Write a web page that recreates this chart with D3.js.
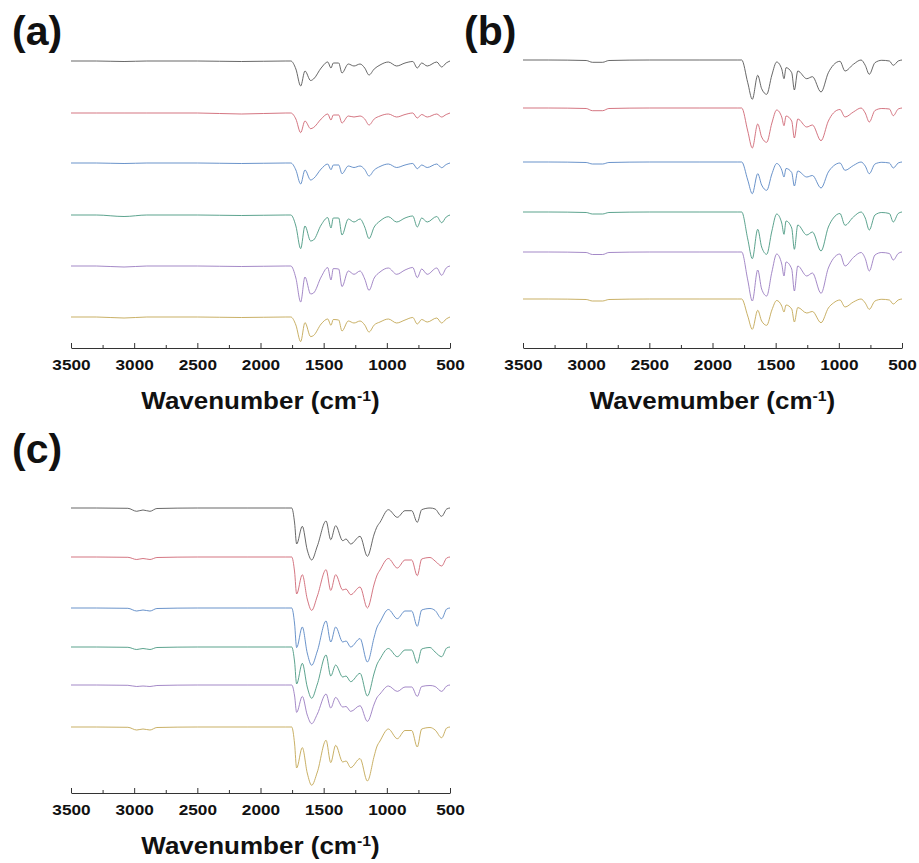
<!DOCTYPE html>
<html>
<head>
<meta charset="utf-8">
<script src="https://cdn.jsdelivr.net/npm/d3@7/dist/d3.min.js"></script>
<style>
  body { margin: 0; background: #fff; }
  text { font-family: "Liberation Sans", Arial, sans-serif; font-weight: bold; fill: #111; }
</style>
</head>
<body>
<svg id="chart" width="919" height="863"></svg>
<script>
// FTIR spectra, three panels, six stacked traces each.
// values = depth of the band below each trace's own baseline (a.u.)

var colors = ['#4d4d4d', '#cc5d6c', '#4f7fc0', '#3f927a', '#9474bd', '#bfa24a'];
var majorTicks = [3500, 3000, 2500, 2000, 1500, 1000, 500];
var minorTicks = [3250, 2750, 2250, 1750, 1250, 750];

// ---- panel (a)
var wnA = [3500, 3300, 3080, 2900, 2500, 2150, 1800, 1760, 1720, 1682, 1648, 1603, 1580, 1520, 1468, 1442, 1424, 1381, 1355, 1305, 1260, 1212, 1175, 1141, 1100, 1054, 988, 922, 856, 795, 759, 724, 680, 605, 566, 530, 500];
var offsetA = [287, 235, 185, 133, 82, 31];
var specA = [
  [0, 0, 0.5, 0, 0, 0.5, 0, 0, 8, 25, 10, 19.5, 18, 7, 1, 7, 2, 2, 12, 3, 5, 3, 7, 14, 8, 4, 1, 5, 2, 0.5, 7, 2, 5, 1, 6, 2, 0],
  [0, 0, 0, 0, 0, 1, 0, 0, 6, 19.6, 8, 15.7, 14.5, 6, 1, 7, 2, 2, 10, 3, 4, 3, 6, 12, 6, 3, 1, 4, 1.5, 0, 5, 1.5, 4, 1, 4, 1.5, 0],
  [0, 0, 0.5, 0, 0, 0.5, 0, 0, 7, 21, 7, 17, 15.5, 6, 1, 6.7, 2, 2, 10.7, 3, 4.5, 3, 6.5, 13, 7, 3.5, 1, 4.5, 2, 0.5, 5.7, 2, 4.5, 1, 4.7, 1.5, 0],
  [0, 0, 1.5, 0, 0, 0.5, 0, 0, 11, 33.6, 11, 26, 25, 10, 2.6, 13, 3, 3, 20, 4, 7, 4, 12, 23.6, 12, 6, 1.7, 7, 3, 1, 12, 3, 7, 1.5, 7.7, 2, 0],
  [0, 0, 1, 0, 0, 0.5, 0, 0, 12, 36, 11, 28, 27, 11, 1.6, 14, 2.6, 3, 20.6, 5, 8.3, 5, 13, 24.3, 12, 6, 2, 8.3, 4, 1.5, 11.6, 3, 8.3, 2, 9.3, 2, 0],
  [0, 0, 1, 0, 0, 0.5, 0, 0, 8, 24.6, 5.6, 19.6, 18.5, 7, 2, 8.3, 2.5, 3, 14, 4, 6, 4, 8, 15, 8, 5, 2, 6, 3, 0.5, 7, 2.5, 5, 1, 6, 2, 0]
];

// ---- panel (b)
var wnB = [3500, 3300, 3000, 2950, 2870, 2820, 2500, 2100, 1800, 1769, 1721, 1685, 1642, 1611, 1571, 1530, 1492, 1452, 1434, 1418, 1373, 1352, 1325, 1254, 1209, 1141, 1083, 1043, 991, 951, 885, 824, 791, 759, 714, 660, 600, 569, 530, 500];
var offsetB = [288, 240, 186, 136, 96, 49];
var specB = [
  [0, 0, 0.5, 2.3, 2.3, 0.5, 0, 0, 0, 0, 22.7, 39.3, 15.3, 28.7, 34.3, 15, 2, 9, 18.7, 7.7, 12.7, 30, 11, 18.7, 16.7, 32, 12.7, 5, 1.3, 11, 4.3, 0, 5.3, 14.3, 2.7, 0.3, 1, 5.3, 1, 0],
  [0, 0, 0.5, 2.7, 2.7, 0.5, 0, 0, 0, 0, 23, 40, 16, 29, 34.3, 15, 2, 9, 17.7, 8, 13, 30, 11, 19, 17, 32.7, 13, 5, 1.5, 9, 4, 0, 5, 14, 2.5, 0.5, 1, 7.7, 1, 0],
  [0, 0, 0.5, 2, 2, 0.5, 0, 0, 0, 0, 18, 31.7, 11.7, 23, 28.3, 12, 1.5, 8, 15, 6.5, 10.5, 24, 9, 15, 13.5, 26, 10, 4, 1, 8.3, 3.5, 0, 4, 11.7, 2, 0.3, 1, 6, 1, 0],
  [0, 0, 0.5, 2, 2, 0.5, 0, 0, 0, 0, 27, 46.7, 17.3, 35, 42.3, 19, 2, 11, 22.3, 9, 16, 37.3, 13, 23, 20, 39, 15, 6, 1.5, 13.3, 5, 0, 6, 18, 3, 0.5, 1.5, 10, 1.5, 0],
  [0, 0, 0.5, 2.5, 2.5, 0.5, 0, 0, 0, 0, 28, 49, 18, 37, 44, 20, 2, 12, 24, 10, 17, 39, 14, 24, 21, 41.3, 16, 6.5, 2, 14, 5.5, 0.5, 6.5, 19, 3, 0.5, 1.5, 8, 1.5, 0],
  [0, 0, 0.5, 2, 2, 0.5, 0, 0, 0, 0, 17, 30.3, 11.3, 22, 26.3, 11, 1.5, 7, 13, 6, 10, 23, 8.5, 14, 12.5, 23.7, 9, 4, 1, 8, 3, 0, 4, 10.3, 2, 0.3, 1, 5, 1, 0]
];

// ---- panel (c)
var wnC = [3500, 3300, 3050, 2980, 2930, 2875, 2820, 2500, 2100, 1800, 1753, 1730, 1714, 1669, 1630, 1595, 1550, 1481, 1444, 1405, 1349, 1323, 1286, 1212, 1154, 1100, 1080, 1054, 988, 917, 856, 803, 759, 724, 658, 618, 566, 526, 500];
var offsetC = [285, 236, 185, 146, 108, 66];
var specC = [
  [0, 0, 0.3, 3.3, 2, 3.3, 0.5, 0, 0, 0, 0, 15, 36, 18.3, 42, 52, 38, 13, 31.7, 17.7, 32.7, 31, 36, 28.3, 48.3, 26, 19.3, 14.3, 1.7, 9.3, 2.7, 2.7, 14.3, 1.7, 0, 1, 8.3, 1, 0],
  [0, 0, 0.3, 2.5, 1.5, 2.5, 0.5, 0, 0, 0, 0, 15, 37, 17.7, 42, 53.4, 39, 12.7, 33.4, 17.7, 33, 32, 37.7, 30, 51, 27, 19, 13, 1.5, 11, 3, 3, 18.7, 2, 0.5, 4, 9, 1, 0],
  [0, 0, 0.3, 3, 2, 3, 0.5, 0, 0, 0, 0, 16, 39.6, 19, 45, 57.3, 43, 13, 34, 19, 34, 33, 39, 30.6, 54, 29, 20, 14, 1.5, 10.7, 3, 3, 18.3, 2, 0.5, 2.5, 10.7, 1, 0],
  [0, 0, 0.3, 2.5, 1.5, 2.5, 0.5, 0, 0, 0, 0, 15, 37, 16.3, 40, 51.3, 37, 8, 29, 18, 30, 29, 34.7, 26.3, 49, 26, 18, 12, 1.5, 9.7, 3, 3, 16.3, 2, 0.5, 5, 9.7, 1, 0],
  [0, 0, 0.3, 1.5, 1, 1.5, 0.5, 0, 0, 0, 0, 11, 27.4, 11.4, 30, 38.7, 29, 9, 23, 12.4, 22, 21.5, 26.4, 20.7, 36.4, 19, 13, 9, 1, 6.4, 2, 2, 11.4, 1.5, 0.5, 1.5, 6.4, 1, 0],
  [0, 0, 0.3, 3, 2, 3, 0.5, 0, 0, 0, 0, 17, 41, 20.6, 46, 58.3, 45, 13.3, 35.6, 18.3, 35, 34, 40.6, 31.6, 54, 29, 20, 14, 2, 11.7, 3.5, 3.5, 20, 2, 0.5, 3, 10.7, 1, 0]
];

var svg = d3.select('#chart');

var panels = [
  {label: '(a)', title: 'Wavenumber', wn: wnA, off: offsetA, spec: specA, left: 71, axisY: 348, labelX: 12, labelY: 45},
  {label: '(b)', title: 'Wavemumber', wn: wnB, off: offsetB, spec: specB, left: 523, axisY: 348, labelX: 464, labelY: 45},
  {label: '(c)', title: 'Wavenumber', wn: wnC, off: offsetC, spec: specC, left: 71, axisY: 793, labelX: 12, labelY: 463}
];

var plotW = 379;

panels.forEach(function(p) {
  var x = d3.scaleLinear().domain([3500, 500]).range([0, plotW]);
  var y = d3.scaleLinear().domain([0, 300]).range([p.axisY, p.axisY - 300]);

  var g = svg.append('g').attr('transform', 'translate(' + p.left + ',0)');

  var line = d3.line()
      .x(function(d) { return x(d[0]); })
      .y(function(d) { return y(d[1]); })
      .curve(d3.curveMonotoneX);

  p.spec.forEach(function(vals, i) {
    var pts = p.wn.map(function(w, j) { return [w, p.off[i] - vals[j]]; });
    g.append('path')
        .datum(pts)
        .attr('fill', 'none')
        .attr('stroke', colors[i])
        .attr('stroke-width', 0.85)
        .attr('d', line);
  });

  // minor ticks (inward)
  g.append('g')
      .attr('transform', 'translate(0,' + p.axisY + ')')
      .call(d3.axisBottom(x).tickValues(minorTicks).tickSize(-3).tickFormat(''))
      .call(function(s) { s.select('.domain').remove(); s.selectAll('line').attr('stroke', '#333'); });

  // major ticks + labels
  var ax = g.append('g')
      .attr('transform', 'translate(0,' + p.axisY + ')')
      .call(d3.axisBottom(x).tickValues(majorTicks).tickSize(-5).tickSizeOuter(0).tickPadding(11).tickFormat(d3.format('d')));
  ax.select('.domain').attr('stroke', '#333');
  ax.selectAll('line').attr('stroke', '#333');
  ax.selectAll('text')
      .attr('fill', '#111')
      .attr('transform', 'scale(1.11,1)')
      .style('font-family', '"Liberation Sans", Arial, sans-serif')
      .style('font-weight', 'bold')
      .style('font-size', '15.5px');

  // axis title (wide bold face in the original, so stretch it a bit)
  var t = g.append('text')
      .attr('transform', 'translate(' + (plotW / 2) + ',' + (p.axisY + 61) + ') scale(1.13,1)')
      .attr('text-anchor', 'middle')
      .style('font-size', '23px');
  t.append('tspan').text(p.title + ' (cm');
  t.append('tspan').attr('dy', -8).style('font-size', '14px').text('-1');
  t.append('tspan').attr('dy', 8).text(')');

  // panel letter
  svg.append('text')
      .attr('x', p.labelX)
      .attr('y', p.labelY)
      .style('font-size', '41px')
      .text(p.label);
});
</script>
</body>
</html>
